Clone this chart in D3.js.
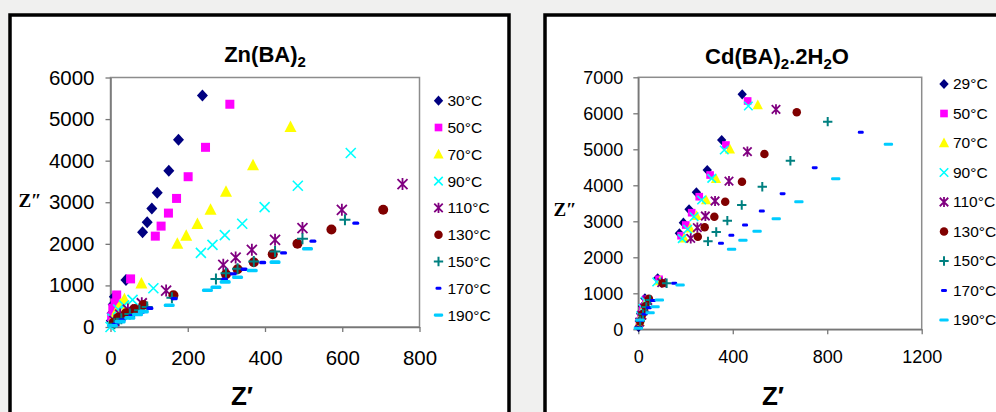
<!DOCTYPE html>
<html>
<head>
<meta charset="utf-8">
<script src="https://cdn.jsdelivr.net/npm/d3@7"></script>
<style>
body { margin: 0; background: #f0f0ef; }
svg { display: block; }
text { font-family: "Liberation Sans", Arial, sans-serif; }
</style>
</head>
<body>
<div id="chart"></div>
<script>
// series labels
var znLabels = ["30°C", "50°C", "70°C", "90°C", "110°C", "130°C", "150°C", "170°C", "190°C"]
var cdLabels = ["29°C", "50°C", "70°C", "90°C", "110°C", "130°C", "150°C", "170°C", "190°C"]

var znXTicks = [0, 200, 400, 600, 800]
var znYTicks = [0, 1000, 2000, 3000, 4000, 5000, 6000]
var cdXTicks = [0, 400, 800, 1200]
var cdYTicks = [0, 1000, 2000, 3000, 4000, 5000, 6000, 7000]

// Zn(BA)2 : [Z', Z'']
var zn30 = [[2,150],[4,330],[7,540],[10,730],[40,1133],[83,2281],[95,2522],[107,2851],[121,3229],[151,3759],[176,4506],[238,5566]]
var zn50 = [[3,250],[6,450],[12,578],[16,770],[52,1157],[116,2185],[131,2426],[150,2739],[171,3092],[201,3614],[246,4321],[309,5357]]
var zn70 = [[8,220],[18,420],[26,540],[36,667],[80,1044],[173,2000],[196,2193],[225,2474],[259,2819],[299,3253],[369,3887],[466,4812]]
var zn90 = [[0,0],[5,200],[20,420],[35,520],[57,651],[111,932],[234,1783],[264,1976],[296,2209],[341,2482],[399,2884],[485,3398],[622,4185]]
var zn110 = [[10,150],[25,300],[45,420],[81,571],[144,876],[292,1494],[324,1670],[366,1855],[426,2096],[497,2378],[599,2819],[756,3438]]
var zn130 = [[8,100],[20,220],[40,330],[62,430],[85,530],[163,763],[299,1269],[329,1390],[371,1559],[420,1751],[484,2000],[572,2346],[706,2819]]
var zn150 = [[10,80],[28,200],[50,310],[75,400],[95,480],[159,706],[273,1157],[299,1293],[329,1398],[371,1574],[426,1815],[497,2120],[607,2578]]
var zn170 = [[12,60],[30,170],[55,270],[80,360],[102,450],[165,682],[295,1149],[318,1277],[346,1390],[394,1550],[448,1783],[524,2065],[635,2498]]
var zn190 = [[5,30],[25,130],[50,220],[70,300],[85,369],[152,523],[251,884],[273,957],[297,1084],[329,1198],[367,1357],[426,1559],[510,1880]]

// Cd(BA)2.2H2O : [Z', Z'']
var cd29 = [[1,60],[4,230],[10,430],[18,640],[28,861],[82,1417],[174,2667],[191,2961],[215,3333],[246,3805],[292,4425],[353,5258],[440,6528]]
var cd50 = [[5,220],[12,420],[20,620],[33,833],[88,1389],[181,2600],[201,2897],[226,3239],[258,3683],[304,4286],[371,5119],[463,6342]]
var cd70 = [[6,210],[14,400],[24,600],[36,814],[92,1342],[194,2528],[219,2806],[247,3156],[287,3592],[329,4183],[388,5000],[506,6231]]
var cd90 = [[10,380],[20,580],[30,780],[78,1314],[186,2517],[209,2778],[236,3128],[268,3592],[311,4194],[364,4981],[466,6203]]
var cd110 = [[6,200],[15,390],[27,590],[40,800],[99,1294],[222,2528],[250,2822],[284,3147],[325,3564],[384,4119],[462,4933],[583,6111]]
var cd130 = [[8,220],[17,420],[30,640],[45,850],[103,1278],[252,2572],[281,2833],[322,3128],[368,3544],[439,4100],[534,4869],[671,6028]]
var cd150 = [[8,230],[20,420],[34,620],[50,814],[120,1278],[295,2444],[330,2703],[377,3017],[438,3453],[525,3961],[644,4683],[802,5767]]
var cd170 = [[10,240],[26,420],[45,600],[62,800],[152,1278],[350,2389],[394,2611],[452,2897],[523,3286],[611,3767],[747,4489],[942,5472]]
var cd190 = [[0,28],[7,258],[50,461],[71,628],[89,814],[177,1231],[395,2222],[443,2472],[503,2722],[584,3072],[680,3544],[836,4183],[1059,5139]]

var markers = ["diamond", "square", "triangle", "x", "star", "circle", "plus", "dash", "longdash"]
var colors = ["#000080", "#ff00ff", "#ffff00", "#00ffff", "#800080", "#800000", "#008080", "#0000ff", "#00ccff"]

var width = 996, height = 412

var svg = d3.select("#chart")
    .append("svg")
    .attr("width", width)
    .attr("height", height)

// draws one marker centred on 0,0
function drawMarker(g, kind, color, k) {
    if (kind == "diamond") {
        g.append("path").attr("d", "M0," + (-6*k) + "L" + (5.5*k) + ",0L0," + (6*k) + "L" + (-5.5*k) + ",0Z").style("fill", color)
    } else if (kind == "square") {
        g.append("rect").attr("x", -4.5*k).attr("y", -4.5*k).attr("width", 9*k).attr("height", 9*k).style("fill", color)
    } else if (kind == "triangle") {
        g.append("path").attr("d", "M0," + (-6.5*k) + "L" + (6*k) + "," + (5*k) + "L" + (-6*k) + "," + (5*k) + "Z").style("fill", color)
    } else if (kind == "x") {
        g.append("path").attr("d", "M" + (-5*k) + "," + (-5*k) + "L" + (5*k) + "," + (5*k) + "M" + (5*k) + "," + (-5*k) + "L" + (-5*k) + "," + (5*k))
            .style("stroke", color).style("stroke-width", 1.6).style("fill", "none")
    } else if (kind == "star") {
        g.append("path").attr("d", "M" + (-5*k) + "," + (-5*k) + "L" + (5*k) + "," + (5*k) + "M" + (5*k) + "," + (-5*k) + "L" + (-5*k) + "," + (5*k) + "M0," + (-6*k) + "L0," + (6*k))
            .style("stroke", color).style("stroke-width", 1.8).style("fill", "none")
    } else if (kind == "circle") {
        g.append("circle").attr("r", 5*k).style("fill", color)
    } else if (kind == "plus") {
        g.append("path").attr("d", "M" + (-5.5*k) + ",0L" + (5.5*k) + ",0M0," + (-5.5*k) + "L0," + (5.5*k))
            .style("stroke", color).style("stroke-width", 2).style("fill", "none")
    } else if (kind == "dash") {
        g.append("rect").attr("x", -3.5*k).attr("y", -1.7*k).attr("width", 7*k).attr("height", 3.4*k).attr("rx", 1.5*k).style("fill", color)
    } else if (kind == "longdash") {
        g.append("rect").attr("x", -5.5*k).attr("y", -1.8*k).attr("width", 11*k).attr("height", 3.6*k).attr("rx", 1.5*k).style("fill", color)
    }
}

function drawPanel(p) {
    var panel = svg.append("g")
    panel.append("rect")
        .attr("x", p.box[0]).attr("y", p.box[1])
        .attr("width", p.box[2]).attr("height", p.box[3])
        .style("fill", "white").style("stroke", "black").style("stroke-width", 3.5)

    var x = d3.scaleLinear().domain(p.xDomain).range([p.plot[0], p.plot[2]])
    var y = d3.scaleLinear().domain(p.yDomain).range([p.plot[3], p.plot[1]])

    panel.append("rect")
        .attr("x", p.plot[0]).attr("y", p.plot[1])
        .attr("width", p.plot[2] - p.plot[0]).attr("height", p.plot[3] - p.plot[1])
        .style("fill", "none").style("stroke", "#8c8c8c").style("stroke-width", 1.5)

    var xAxis = panel.append("g")
        .attr("transform", "translate(0," + p.plot[3] + ")")
        .call(d3.axisBottom(x).tickValues(p.xTicks).tickFormat(d3.format("d")).tickSize(5).tickPadding(p.xPad).tickSizeOuter(0))
    var yAxis = panel.append("g")
        .attr("transform", "translate(" + p.plot[0] + ",0)")
        .call(d3.axisLeft(y).tickValues(p.yTicks).tickFormat(d3.format("d")).tickSize(5).tickPadding(p.yPad).tickSizeOuter(0))
    ;[xAxis, yAxis].forEach(function(a) {
        a.select(".domain").style("stroke", "#777").style("stroke-width", 1.5)
        a.selectAll(".tick line").style("stroke", "#777").style("stroke-width", 1.3)
        a.selectAll(".tick text").style("font-size", p.tickFont + "px").style("fill", "black")
            .style("font-family", "'Liberation Sans', Arial, sans-serif")
    })

    // points, first series at the bottom
    p.series.forEach(function(s, i) {
        var g = panel.append("g")
        s.forEach(function(d) {
            var m = g.append("g").attr("transform", "translate(" + x(d[0]) + "," + y(d[1]) + ")")
            drawMarker(m, markers[i], colors[i], p.mk)
        })
    })

    // title
    var t = panel.append("text")
        .attr("x", p.titleX).attr("y", p.titleY)
        .attr("text-anchor", "middle")
        .style("font-size", "22px").style("font-weight", "bold")
    p.title.forEach(function(part) {
        if (part[1]) {
            t.append("tspan").text(part[0]).attr("dy", 5).style("font-size", "15px")
        } else {
            t.append("tspan").text(part[0]).attr("dy", part[2] || 0)
        }
    })

    panel.append("text")
        .attr("x", p.zyX).attr("y", p.zyY)
        .attr("text-anchor", "middle")
        .style("font-family", "'Liberation Serif', 'Times New Roman', serif")
        .style("font-size", "19px").style("font-weight", "bold")
        .text("Z\u2033")
    panel.append("text")
        .attr("x", p.zxX).attr("y", 405)
        .attr("text-anchor", "middle")
        .style("font-size", "26px").style("font-weight", "bold")
        .text("Z\u2032")

    // legend
    p.labels.forEach(function(l, i) {
        var ly = p.legY + i*p.legStep
        var m = panel.append("g").attr("transform", "translate(" + p.legX + "," + ly + ")")
        drawMarker(m, markers[i], colors[i], 0.85)
        panel.append("text")
            .attr("x", p.legX + 9).attr("y", ly)
            .attr("dy", "0.35em")
            .style("font-size", "15.5px")
            .text(l)
    })
}

drawPanel({
    box: [10, 15, 499, 420],
    plot: [110.5, 77.5, 419.5, 327],
    xDomain: [0, 800], yDomain: [0, 6000],
    xTicks: znXTicks, yTicks: znYTicks,
    xPad: 18, yPad: 11, tickFont: 20.5,
    series: [zn30, zn50, zn70, zn90, zn110, zn130, zn150, zn170, zn190],
    mk: 1,
    title: [["Zn(BA)"], ["2", true]],
    titleX: 265, titleY: 62,
    zyX: 30, zyY: 207,
    zxX: 242,
    labels: znLabels, legX: 438.5, legY: 100.7, legStep: 26.8
})

drawPanel({
    box: [545, 15, 480, 420],
    plot: [638.3, 77.3, 921.7, 329.3],
    xDomain: [0, 1200], yDomain: [0, 7000],
    xTicks: cdXTicks, yTicks: cdYTicks,
    xPad: 16, yPad: 10, tickFont: 18,
    series: [cd29, cd50, cd70, cd90, cd110, cd130, cd150, cd170, cd190],
    mk: 0.85,
    title: [["Cd(BA)"], ["2", true], [".2H", false, -5], ["2", true], ["O", false, -5]],
    titleX: 777, titleY: 64,
    zyX: 565, zyY: 216,
    zxX: 773,
    labels: cdLabels, legX: 944, legY: 84, legStep: 29.5
})
</script>
</body>
</html>
